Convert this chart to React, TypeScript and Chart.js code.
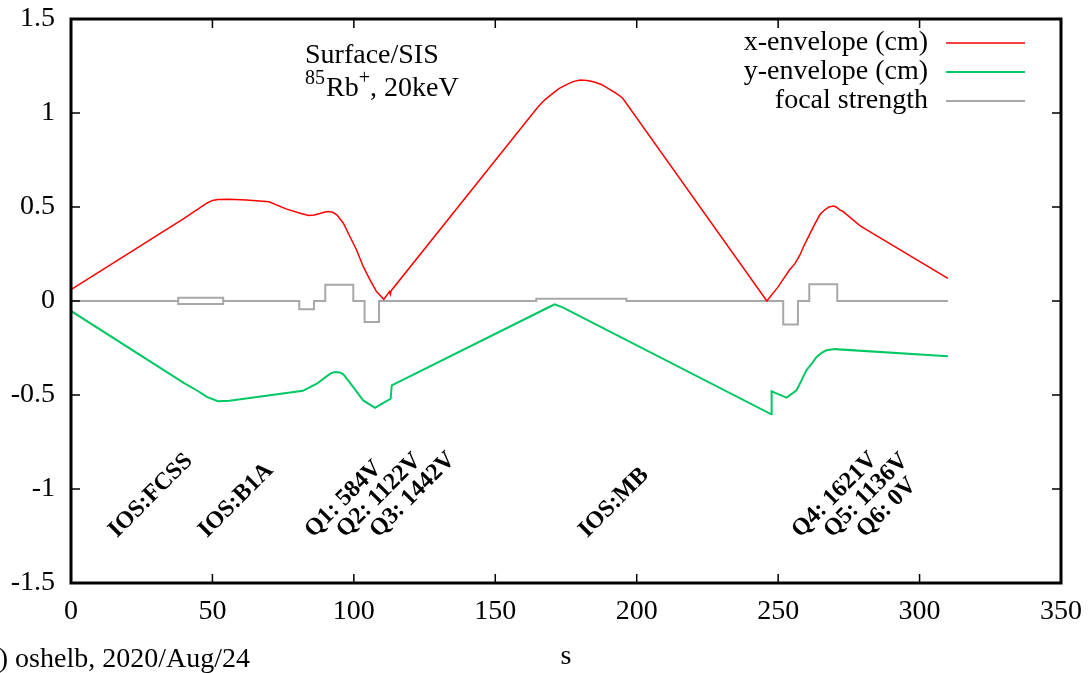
import React, { useEffect, useRef } from "react";
import { Chart, registerables } from "chart.js";

Chart.register(...registerables);

// ---- data ----
const xEnvS = [0, 40, 43, 45, 48, 50, 52, 56, 62, 70, 76, 81, 84, 86, 88, 89.5, 91, 92.5, 94, 96.3, 98.6, 101, 103.3, 105.7, 108, 110.6, 112.6, 112.9, 113.2, 165, 167.5, 170, 172.5, 175, 177.5, 180, 182.5, 185, 187.5, 190, 192.5, 195, 246, 250, 252, 254, 256, 257.7, 259, 261, 263, 264.8, 266.5, 268, 269.5, 270.5, 271.8, 273, 275, 279, 310];
const xEnvV = [0.06, 0.44, 0.47, 0.49, 0.52, 0.535, 0.54, 0.541, 0.537, 0.528, 0.49, 0.467, 0.455, 0.458, 0.465, 0.472, 0.476, 0.472, 0.458, 0.414, 0.343, 0.27, 0.184, 0.112, 0.05, 0.009, 0.05, 0.035, 0.055, 1.03, 1.07, 1.10, 1.13, 1.15, 1.167, 1.175, 1.173, 1.165, 1.152, 1.13, 1.107, 1.08, 0.0, 0.075, 0.12, 0.165, 0.2, 0.245, 0.29, 0.35, 0.41, 0.46, 0.485, 0.5, 0.505, 0.5, 0.485, 0.475, 0.45, 0.40, 0.12];

const yEnvS = [0, 40, 45, 48, 52, 56, 82, 86.9, 90, 91.8, 93.3, 95, 96.3, 99.8, 103.3, 107.5, 110, 113.0, 113.4, 168, 171, 174, 247.6, 247.7, 250, 253, 256.5, 258, 260, 262, 263.6, 265.5, 267.1, 270, 310];
const yEnvV = [-0.053, -0.437, -0.48, -0.51, -0.533, -0.53, -0.478, -0.44, -0.405, -0.385, -0.378, -0.38, -0.39, -0.458, -0.529, -0.568, -0.546, -0.52, -0.449, -0.04, -0.018, -0.035, -0.603, -0.48, -0.495, -0.514, -0.475, -0.43, -0.368, -0.33, -0.297, -0.275, -0.262, -0.256, -0.294];

const focS = [0, 37.9, 37.9, 53.8, 53.8, 37.9, 37.9, 45, 53.8, 80.7, 80.7, 85.9, 85.9, 89.9, 89.9, 99.8, 99.8, 103.8, 103.8, 108.9, 108.9, 164.5, 164.5, 196.4, 196.4, 251.8, 251.8, 257, 257, 261, 261, 270.9, 270.9, 310];
const focV: (number | null)[] = [0, 0, 0.017, 0.017, -0.016, -0.016, 0, null, 0, 0, -0.044, -0.044, 0, 0, 0.087, 0.087, 0, 0, -0.112, -0.112, 0, 0, 0.012, 0.012, 0, 0, -0.125, -0.125, 0, 0, 0.089, 0.089, 0, 0];

const elementLabels = ["IOS:FCSS", "IOS:B1A", "Q1: 584V", "Q2: 1122V", "Q3: 1442V", "IOS:MB", "Q4: 1621V", "Q5: 1136V", "Q6: 0V"];
const elementLabelS = [16.3, 48.1, 85.6, 96.9, 108.6, 182.5, 257.8, 269.1, 280.7];
const elementLabelV = [-1.262, -1.262, -1.262, -1.262, -1.262, -1.262, -1.262, -1.262, -1.262];

const seriesNames = ["x-envelope (cm)", "y-envelope (cm)", "focal strength"];
const seriesColors = ["#ff0000", "#00c864", "#a8a8a8"];

const xTicksMin = 0;
const xTicksMax = 350;
const yTicksMin = -1.5;
const yTicksMax = 1.5;

const SERIF = "'Liberation Serif', 'Times New Roman', serif";

const zip = (s: number[], v: (number | null)[]) => s.map((x, i) => ({ x, y: v[i] }));

const framePlugin = {
  id: "gnuFrame",
  afterDatasetsDraw(chart: any) {
    const { ctx, chartArea: a, scales } = chart;
    const xs = scales.x;
    const ys = scales.y;
    ctx.save();
    ctx.strokeStyle = "#000";
    ctx.lineWidth = 1.5;
    const tl = 9;
    for (let v = 50; v < 350; v += 50) {
      const px = xs.getPixelForValue(v);
      ctx.beginPath();
      ctx.moveTo(px, a.bottom);
      ctx.lineTo(px, a.bottom - tl);
      ctx.moveTo(px, a.top);
      ctx.lineTo(px, a.top + tl);
      ctx.stroke();
    }
    for (let v = -1; v <= 1; v += 0.5) {
      const py = ys.getPixelForValue(v);
      ctx.beginPath();
      ctx.moveTo(a.left, py);
      ctx.lineTo(a.left + tl, py);
      ctx.moveTo(a.right, py);
      ctx.lineTo(a.right - tl, py);
      ctx.stroke();
    }
    ctx.lineWidth = 3;
    ctx.strokeRect(a.left, a.top, a.right - a.left, a.bottom - a.top);
    ctx.restore();
  },
  afterDraw(chart: any) {
    const { ctx, scales } = chart;
    const xs = scales.x;
    const ys = scales.y;
    ctx.save();
    ctx.fillStyle = "#000";
    // legend
    ctx.font = `28px ${SERIF}`;
    ctx.textAlign = "right";
    ctx.textBaseline = "middle";
    const rows = [43, 72, 101];
    chart.data.datasets.forEach((ds: any, i: number) => {
      ctx.fillStyle = "#000";
      ctx.fillText(ds.label, 928, rows[i]);
      ctx.strokeStyle = ds.borderColor;
      ctx.lineWidth = ds.borderWidth;
      ctx.beginPath();
      ctx.moveTo(946, rows[i]);
      ctx.lineTo(1025, rows[i]);
      ctx.stroke();
    });
    // annotation
    ctx.textAlign = "left";
    ctx.textBaseline = "alphabetic";
    ctx.fillStyle = "#000";
    ctx.font = `28px ${SERIF}`;
    ctx.fillText("Surface/SIS", 305, 63);
    let x = 305;
    ctx.font = `20px ${SERIF}`;
    ctx.fillText("85", x, 84);
    x += ctx.measureText("85").width + 1;
    ctx.font = `28px ${SERIF}`;
    ctx.fillText("Rb", x, 96);
    x += ctx.measureText("Rb").width;
    ctx.font = `20px ${SERIF}`;
    ctx.fillText("+", x, 84);
    x += ctx.measureText("+").width;
    ctx.font = `28px ${SERIF}`;
    ctx.fillText(", 20keV", x, 96);
    // element labels
    ctx.font = `bold 24px ${SERIF}`;
    elementLabels.forEach((t, i) => {
      const px = xs.getPixelForValue(elementLabelS[i]);
      const py = ys.getPixelForValue(elementLabelV[i]);
      ctx.save();
      ctx.translate(px, py);
      ctx.rotate(-Math.PI / 4);
      ctx.fillText(t, 0, 0);
      ctx.restore();
    });
    // footer
    ctx.font = `28px ${SERIF}`;
    ctx.textAlign = "right";
    ctx.fillText("(c) oshelb, 2020/Aug/24", 250, 667);
    ctx.restore();
  },
};

export default function App() {
  const ref = useRef<HTMLCanvasElement | null>(null);
  useEffect(() => {
    if (!ref.current) return;
    const chart = new Chart(ref.current, {
      type: "line",
      data: {
        datasets: [
          { label: seriesNames[0], data: zip(xEnvS, xEnvV), borderColor: seriesColors[0], borderWidth: 1.5, pointRadius: 0, tension: 0, fill: false },
          { label: seriesNames[1], data: zip(yEnvS, yEnvV), borderColor: seriesColors[1], borderWidth: 2, pointRadius: 0, tension: 0, fill: false },
          { label: seriesNames[2], data: zip(focS, focV), borderColor: seriesColors[2], borderWidth: 2, pointRadius: 0, tension: 0, fill: false, spanGaps: false },
        ],
      },
      options: {
        animation: false,
        responsive: false,
        devicePixelRatio: 1,
        layout: { padding: { top: 19, right: 31, left: 0, bottom: 0 } },
        plugins: { legend: { display: false }, tooltip: { enabled: false } },
        scales: {
          x: {
            type: "linear",
            min: xTicksMin,
            max: xTicksMax,
            grid: { display: false, drawTicks: false },
            border: { display: false },
            ticks: {
              stepSize: 50,
              color: "#000",
              padding: 12,
              maxRotation: 0,
              font: { family: SERIF, size: 28 },
              callback: (v: any) => String(v),
            },
            title: { display: true, text: "s", color: "#000", font: { family: SERIF, size: 28 }, padding: { top: 0, bottom: 0 } },
            afterFit: (s: any) => { s.height = 90; s.paddingLeft = 0; s.paddingRight = 0; },
          },
          y: {
            min: yTicksMin,
            max: yTicksMax,
            grid: { display: false, drawTicks: false },
            border: { display: false },
            ticks: {
              stepSize: 0.5,
              color: "#000",
              padding: 16,
              font: { family: SERIF, size: 28 },
              callback: (v: any) => String(v),
            },
            afterFit: (s: any) => { s.width = 71; s.paddingTop = 0; s.paddingBottom = 0; },
          },
        },
      },
      plugins: [framePlugin],
    } as any);
    return () => chart.destroy();
  }, []);
  return (
    <div style={{ position: "absolute", left: 0, top: 0, width: 1092, height: 673, background: "#fff" }}>
      <canvas ref={ref} width={1092} height={673} style={{ width: 1092, height: 673 }} />
    </div>
  );
}
